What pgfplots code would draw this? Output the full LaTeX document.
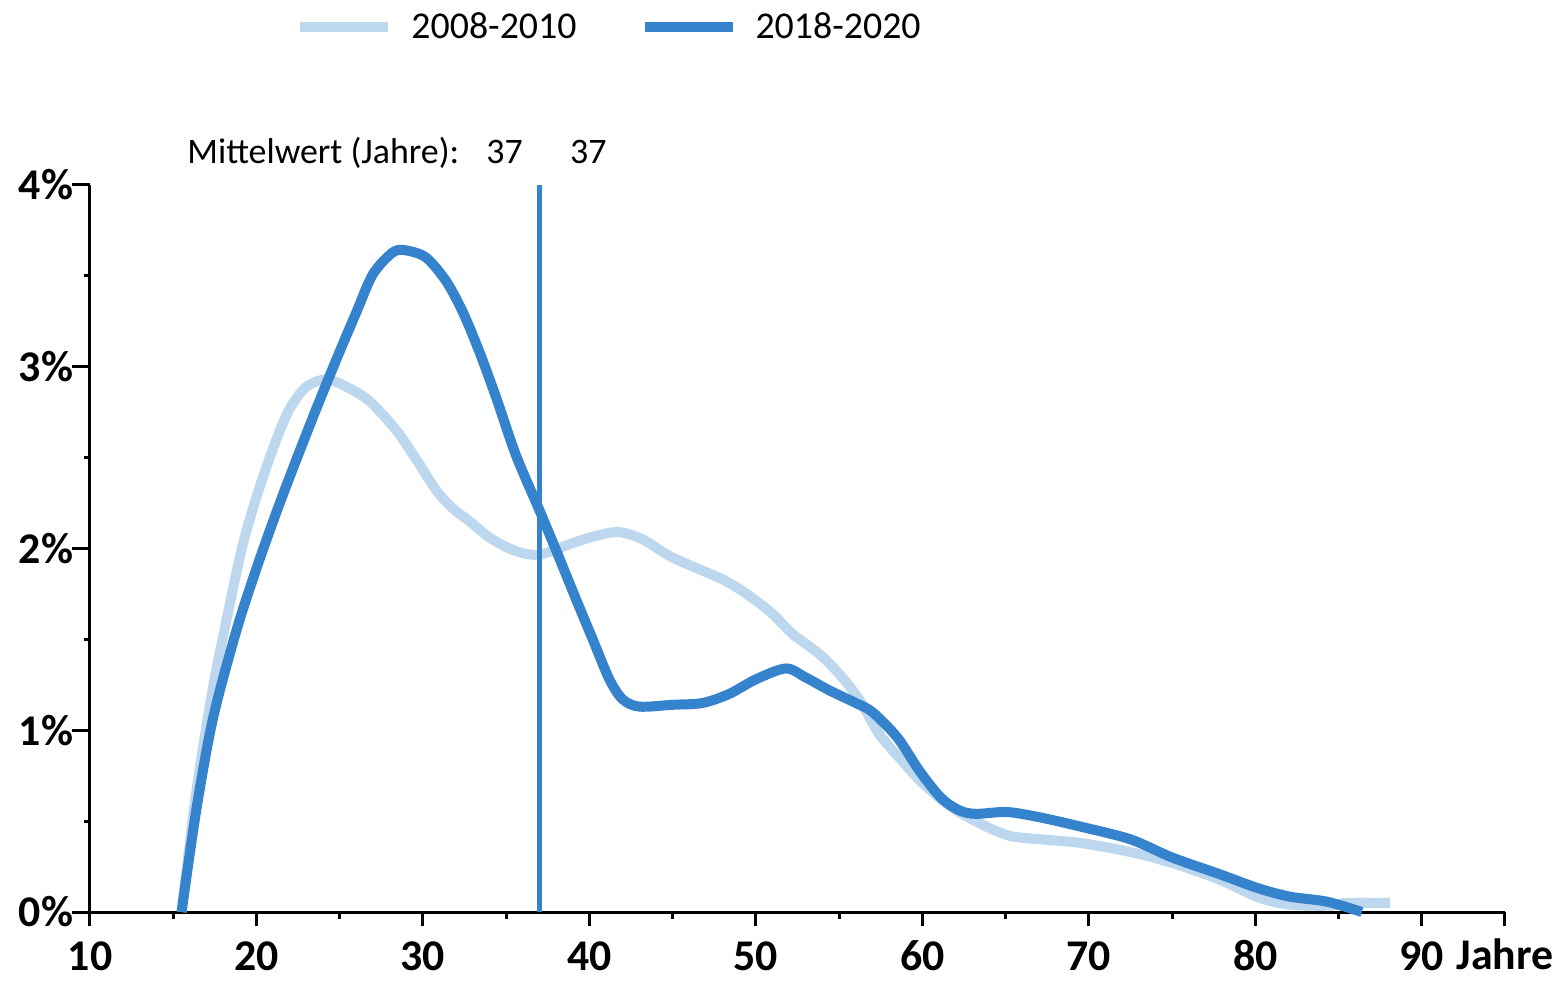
\documentclass[border=0pt]{standalone}
\usepackage{pgfplots}
\pgfplotsset{compat=1.18}
\usepackage{fontspec}
\setmainfont{Carlito}
\definecolor{darkb}{RGB}{52,131,204}
\definecolor{lightb}{RGB}{189,215,238}
\begin{document}
\begin{tikzpicture}
\useasboundingbox (-45bp,-35.5bp) rectangle (737bp,456bp);
\begin{axis}[
 at={(0,0)}, anchor=south west,
 scale only axis, width=707.5bp, height=363.5bp,
 xmin=10, xmax=95, ymin=0, ymax=4,
 axis x line*=bottom, axis y line*=left,
 axis line style={black, line width=1.5bp},
 every tick/.style={black, line width=1.5bp},
 tick align=outside,
 major tick length=9bp, minor tick length=3bp,
 xtick style={/pgfplots/major tick length=7.25bp, /pgfplots/minor tick length=3.5bp},
 xtick={10,20,30,40,50,60,70,80,90},
 xticklabels={10,20,30,40,50,60,70,80,90},
 extra x ticks={95}, extra x tick labels={Jahre},
 extra x tick style={/pgfplots/major tick length=3.5bp, xticklabel style={yshift=-5bp}},
 minor xtick={15,25,35,45,55,65,75,85},
 ytick={0,1,2,3,4}, yticklabels={0\%,1\%,2\%,3\%,4\%},
 minor ytick={0.5,1.5,2.5,3.5},
 ticklabel style={font=\fontsize{22}{24}\selectfont\bfseries},
 xticklabel style={inner sep=0pt, text height=0.68em, text depth=0pt, yshift=-13.5bp},
 yticklabel style={xshift=4bp},
 /pgf/number format/assume math mode=true,
 clip=false,
 legend columns=2,
 legend style={draw=none, fill=none, at={(axis description cs:0.1449,1.2172)}, anchor=west, inner sep=0pt, nodes={inner sep=0pt}, font=\fontsize{19}{20}\selectfont, /tikz/every odd column/.append style={column sep=9bp}, /tikz/every even column/.append style={column sep=31.5bp}},
 legend image code/.code={\draw[#1, line cap=butt] (0bp,0bp) -- (44bp,0bp);},
]
\addplot[lightb, line width=5bp, smooth, line join=round] coordinates {
(15.5,0) (16.4,0.67) (17.4,1.24) (18.3,1.65) (19.2,2.03) (20.2,2.34) (21.2,2.60) (22.0,2.77) (23.0,2.89) (24.2,2.93) (25.4,2.89) (26.8,2.81) (28.4,2.65) (29.6,2.49) (30.8,2.32) (31.8,2.22) (32.8,2.15) (34.0,2.06) (35.2,2.00) (36.2,1.97) (37.2,1.97) (39.0,2.03) (40.4,2.07) (41.8,2.09) (43.2,2.05) (45.0,1.95) (48.0,1.83) (49.6,1.74) (51.0,1.64) (52.2,1.53) (53.8,1.42) (55.0,1.31) (56.2,1.17) (57.4,0.98) (58.7,0.84) (60.0,0.71) (61.7,0.58) (63.4,0.49) (65.2,0.42) (67.1,0.40) (69.5,0.38) (72.5,0.33) (75.0,0.27) (77.8,0.18) (80.2,0.08) (82.1,0.04) (84.5,0.035) (85.5,0.05) (88.1,0.05)
};
\addlegendentry{2008-2010}
\addplot[darkb, line width=2.7bp, forget plot] coordinates {(37,0) (37,4)};
\addplot[darkb, line width=5bp, smooth, line join=round] coordinates {
(15.5,0) (16.4,0.57) (17.4,1.07) (18.8,1.55) (20.0,1.89) (21.2,2.2) (22.4,2.49) (23.6,2.77) (24.8,3.04) (26.0,3.30) (27.0,3.51) (28.2,3.63) (29.0,3.64) (30.2,3.60) (31.4,3.47) (32.4,3.30) (33.4,3.08) (34.4,2.83) (35.6,2.51) (37.0,2.21) (38.0,1.99) (39.2,1.72) (40.2,1.50) (41.2,1.28) (42.0,1.17) (43.0,1.13) (45.0,1.14) (46.8,1.15) (48.4,1.20) (50.0,1.28) (51.8,1.34) (53.0,1.29) (54.4,1.22) (56.0,1.15) (57.0,1.10) (58.5,0.96) (59.8,0.78) (61.1,0.63) (62.2,0.56) (63.2,0.54) (65.1,0.55) (67.1,0.52) (69.5,0.47) (72.5,0.40) (75.0,0.30) (77.8,0.21) (80.2,0.13) (82.1,0.084) (84.3,0.057) (86.4,0.0)
};
\addlegendentry{2018-2020}
\node[anchor=base west, inner sep=0pt, font=\fontsize{18}{20}\selectfont] at (axis cs:15.83,4.121) {Mittelwert (Jahre):};
\node[anchor=base, inner sep=0pt, font=\fontsize{18}{20}\selectfont] at (axis cs:34.9,4.121) {37};
\node[anchor=base, inner sep=0pt, font=\fontsize{18}{20}\selectfont] at (axis cs:39.94,4.121) {37};
\end{axis}
\end{tikzpicture}
\end{document}
